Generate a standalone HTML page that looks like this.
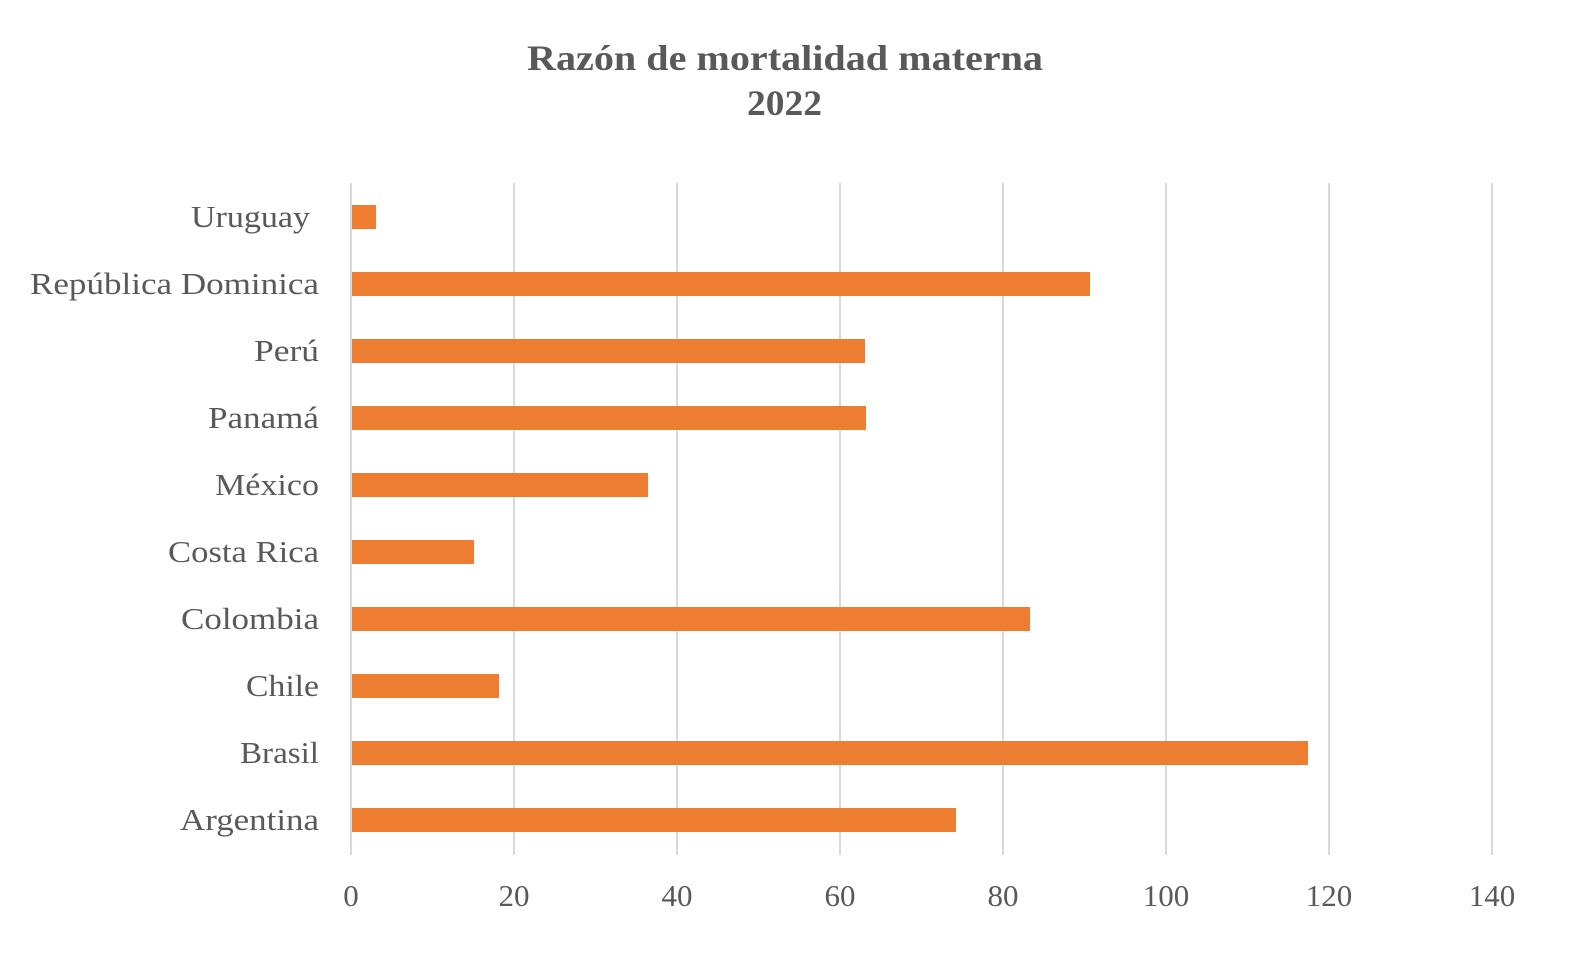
<!DOCTYPE html>
<html><head><meta charset="utf-8"><style>
body{margin:0;background:#fff;}
svg text{font-family:"Liberation Serif",serif;fill:#595959;}
</style></head><body>
<svg width="1572" height="948" xmlns="http://www.w3.org/2000/svg">
<rect width="1572" height="948" fill="#fff"/>
<text x="527" y="70" font-size="36" font-weight="bold" textLength="516" lengthAdjust="spacingAndGlyphs">Razón de mortalidad materna</text>
<text x="747" y="115" font-size="36" font-weight="bold" textLength="75" lengthAdjust="spacingAndGlyphs">2022</text>
<g stroke="#d9d9d9" stroke-width="2">
<line x1="351" y1="183" x2="351" y2="855"/>
<line x1="514" y1="183" x2="514" y2="855"/>
<line x1="677" y1="183" x2="677" y2="855"/>
<line x1="840" y1="183" x2="840" y2="855"/>
<line x1="1003" y1="183" x2="1003" y2="855"/>
<line x1="1166" y1="183" x2="1166" y2="855"/>
<line x1="1329" y1="183" x2="1329" y2="855"/>
<line x1="1492" y1="183" x2="1492" y2="855"/>
</g>
<g fill="#ed7d31">
<rect x="352" y="205" width="24" height="24"/>
<rect x="352" y="272" width="738" height="24"/>
<rect x="352" y="339" width="513" height="24"/>
<rect x="352" y="406" width="514" height="24"/>
<rect x="352" y="473" width="296" height="24"/>
<rect x="352" y="540" width="122" height="24"/>
<rect x="352" y="607" width="678" height="24"/>
<rect x="352" y="674" width="147" height="24"/>
<rect x="352" y="741" width="956" height="24"/>
<rect x="352" y="808" width="604" height="24"/>
</g>
<g font-size="31" lengthAdjust="spacingAndGlyphs">
<text x="191" y="227" textLength="119" lengthAdjust="spacingAndGlyphs">Uruguay</text>
<text x="30" y="294" textLength="289" lengthAdjust="spacingAndGlyphs">República Dominica</text>
<text x="254" y="361" textLength="65" lengthAdjust="spacingAndGlyphs">Perú</text>
<text x="208" y="428" textLength="111" lengthAdjust="spacingAndGlyphs">Panamá</text>
<text x="215" y="495" textLength="104" lengthAdjust="spacingAndGlyphs">México</text>
<text x="168" y="562" textLength="151" lengthAdjust="spacingAndGlyphs">Costa Rica</text>
<text x="181" y="629" textLength="138" lengthAdjust="spacingAndGlyphs">Colombia</text>
<text x="246" y="696" textLength="73" lengthAdjust="spacingAndGlyphs">Chile</text>
<text x="240" y="763" textLength="79" lengthAdjust="spacingAndGlyphs">Brasil</text>
<text x="180" y="830" textLength="139" lengthAdjust="spacingAndGlyphs">Argentina</text>
</g>
<g font-size="31" text-anchor="middle">
<text x="351" y="906">0</text>
<text x="514" y="906">20</text>
<text x="677" y="906">40</text>
<text x="840" y="906">60</text>
<text x="1003" y="906">80</text>
<text x="1166" y="906">100</text>
<text x="1329" y="906">120</text>
<text x="1492" y="906">140</text>
</g>
</svg>
</body></html>
